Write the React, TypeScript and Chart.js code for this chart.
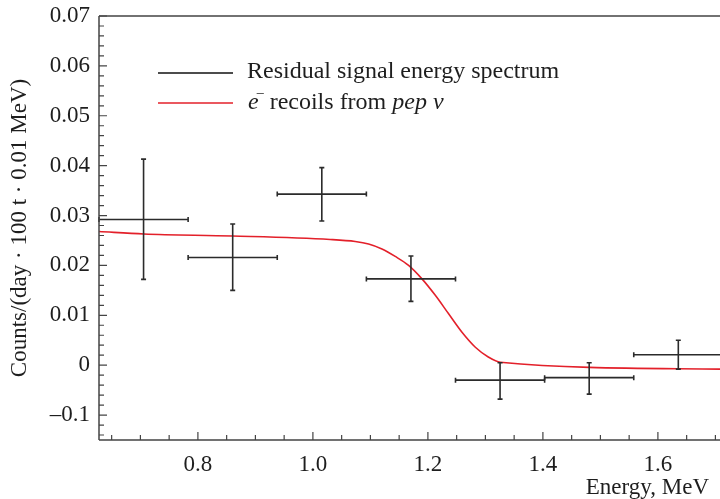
import React, { useEffect, useRef } from "react";
import { Chart, registerables } from "chart.js";

Chart.register(...registerables);

// ---- data ----
const binCenters = [0.7055, 0.8605, 1.0155, 1.1705, 1.3255, 1.4805, 1.6355];
const binLow = [0.628, 0.783, 0.938, 1.093, 1.248, 1.403, 1.558];
const binHigh = [0.783, 0.938, 1.093, 1.248, 1.403, 1.558, 1.713];
const signalValues = [0.0292, 0.0216, 0.0343, 0.0173, -0.003, -0.0025, 0.0021];
const signalUpper = [0.0413, 0.0283, 0.0396, 0.0219, 0.0005, 0.0005, 0.005];
const signalLower = [0.0172, 0.015, 0.0289, 0.0128, -0.0068, -0.0058, -0.0008];

const curveEnergy = [0.628, 0.706, 0.86, 1.03, 1.0736, 1.0968, 1.1201, 1.1432, 1.1664, 1.1897, 1.2129, 1.236, 1.2593, 1.2825, 1.3056, 1.326, 1.708];
const curveCounts = [0.0268, 0.0263, 0.0259, 0.0252, 0.0248, 0.0243, 0.0233, 0.0218, 0.02, 0.0173, 0.014, 0.0103, 0.0066, 0.0036, 0.0016, 0.0006, -0.0008];

const xTickValues = [0.8, 1.0, 1.2, 1.4, 1.6];
const xTickLabels = ["0.8", "1.0", "1.2", "1.4", "1.6"];
const yTickValues = [-0.01, 0, 0.01, 0.02, 0.03, 0.04, 0.05, 0.06, 0.07];
const yTickLabels = ["\u20130.1", "0", "0.01", "0.02", "0.03", "0.04", "0.05", "0.06", "0.07"];

const X_MIN = 0.628;
const X_MAX = 1.708;
const Y_MIN = -0.015;
const Y_MAX = 0.07;
const X_MINOR = 0.05;
const Y_MINOR = 0.002;

const xTitle = "Energy, MeV";
const yTitle = "Counts/(day \u00B7 100 t \u00B7 0.01 MeV)";
const legendSignal = "Residual signal energy spectrum";
const legendCurveParts = [
  { text: "e", italic: true, sup: false },
  { text: "\u2013", italic: false, sup: true },
  { text: " recoils from ", italic: false, sup: false },
  { text: "pep \u03BD", italic: true, sup: false },
];

const FONT = "'Liberation Serif', 'Times New Roman', serif";
const TEXT = "#1e1e1e";
const AXIS = "#444";
const BAR = "#2b2b2b";
const RED = "#e3202a";
const FS = 23;
const LFS = 24;

const errorBarPlugin = {
  id: "errorBars",
  afterDatasetsDraw(chart: any) {
    const { ctx, chartArea: a, scales } = chart;
    const x = scales.x, y = scales.y;
    ctx.save();
    ctx.beginPath();
    ctx.rect(a.left - 4, a.top, a.right - a.left + 4, a.bottom - a.top);
    ctx.clip();
    ctx.strokeStyle = BAR;
    ctx.lineWidth = 1.6;
    const cap = 2.5;
    for (let i = 0; i < binCenters.length; i++) {
      const xc = x.getPixelForValue(binCenters[i]);
      const xl = x.getPixelForValue(binLow[i]);
      const xh = x.getPixelForValue(binHigh[i]);
      const yc = y.getPixelForValue(signalValues[i]);
      const yt = y.getPixelForValue(signalUpper[i]);
      const yb = y.getPixelForValue(signalLower[i]);
      ctx.beginPath();
      ctx.moveTo(xl, yc); ctx.lineTo(xh, yc);
      ctx.moveTo(xc, yt); ctx.lineTo(xc, yb);
      ctx.moveTo(xl, yc - cap); ctx.lineTo(xl, yc + cap);
      ctx.moveTo(xh, yc - cap); ctx.lineTo(xh, yc + cap);
      ctx.moveTo(xc - cap, yt); ctx.lineTo(xc + cap, yt);
      ctx.moveTo(xc - cap, yb); ctx.lineTo(xc + cap, yb);
      ctx.stroke();
    }
    ctx.restore();
  },
};

function minorValues(min: number, max: number, step: number) {
  const out: number[] = [];
  const start = Math.ceil(min / step - 1e-9);
  const end = Math.floor(max / step + 1e-9);
  for (let k = start; k <= end; k++) out.push(+(k * step).toFixed(6));
  return out;
}

const axesPlugin = {
  id: "rootAxes",
  afterDraw(chart: any) {
    const { ctx, chartArea: a, scales } = chart;
    const x = scales.x, y = scales.y;
    ctx.save();
    ctx.strokeStyle = AXIS;
    ctx.lineWidth = 1.5;
    ctx.beginPath();
    ctx.moveTo(a.left, a.top); ctx.lineTo(a.right, a.top);
    ctx.moveTo(a.left, a.top); ctx.lineTo(a.left, a.bottom);
    ctx.moveTo(a.left, a.bottom); ctx.lineTo(a.right, a.bottom);
    ctx.stroke();
    ctx.lineWidth = 1.2;
    ctx.beginPath();
    for (const v of minorValues(X_MIN, X_MAX, X_MINOR)) {
      const px = x.getPixelForValue(v);
      if (px <= a.left + 1) continue;
      const major = xTickValues.some((t) => Math.abs(t - v) < 1e-6);
      ctx.moveTo(px, a.bottom);
      ctx.lineTo(px, a.bottom - (major ? 8 : 5));
    }
    for (const v of minorValues(Y_MIN, Y_MAX, Y_MINOR)) {
      const py = y.getPixelForValue(v);
      if (py >= a.bottom - 1) continue;
      const major = yTickValues.some((t) => Math.abs(t - v) < 1e-6);
      ctx.moveTo(a.left, py);
      ctx.lineTo(a.left + (major ? 8 : 5), py);
    }
    ctx.stroke();

    // x-axis title (right aligned, slightly inside the canvas edge)
    ctx.fillStyle = TEXT;
    ctx.textBaseline = "alphabetic";
    ctx.textAlign = "right";
    ctx.font = `${FS}px ${FONT}`;
    ctx.fillText(xTitle, 709, 494);

    // legend
    ctx.lineWidth = 1.5;
    ctx.strokeStyle = "#111";
    ctx.beginPath();
    ctx.moveTo(158, 73); ctx.lineTo(233, 73);
    ctx.stroke();
    ctx.strokeStyle = RED;
    ctx.beginPath();
    ctx.moveTo(158, 103); ctx.lineTo(233, 103);
    ctx.stroke();
    ctx.textAlign = "left";
    ctx.font = `${LFS}px ${FONT}`;
    ctx.fillText(legendSignal, 247, 78);
    let cx = 248;
    for (const p of legendCurveParts) {
      if (p.sup) {
        ctx.font = `${Math.round(LFS * 0.6)}px ${FONT}`;
        ctx.fillText(p.text, cx - 2, 97);
        cx += ctx.measureText(p.text).width - 2;
      } else {
        ctx.font = `${p.italic ? "italic " : ""}${LFS}px ${FONT}`;
        ctx.fillText(p.text, cx, 109);
        cx += ctx.measureText(p.text).width;
      }
    }
    ctx.restore();
  },
};

export default function App() {
  const ref = useRef<HTMLCanvasElement | null>(null);
  useEffect(() => {
    if (!ref.current) return;
    const chart = new Chart(ref.current, {
      type: "scatter",
      data: {
        datasets: [
          {
            label: "e\u2013 recoils from pep \u03BD",
            data: curveEnergy.map((e, i) => ({ x: e, y: curveCounts[i] })),
            showLine: true,
            borderColor: RED,
            borderWidth: 1.6,
            pointRadius: 0,
            cubicInterpolationMode: "monotone",
          } as any,
          {
            label: legendSignal,
            data: binCenters.map((e, i) => ({ x: e, y: signalValues[i] })),
            showLine: false,
            pointRadius: 0,
          },
        ],
      },
      options: {
        responsive: false,
        animation: false,
        layout: { padding: { top: 16, left: 0, right: 0, bottom: 0 } },
        plugins: { legend: { display: false }, tooltip: { enabled: false } },
        scales: {
          x: {
            type: "linear",
            min: X_MIN,
            max: X_MAX,
            grid: { display: false },
            border: { display: false },
            afterBuildTicks: (s: any) => { s.ticks = xTickValues.map((v) => ({ value: v })); },
            afterFit: (s: any) => { s.height = 59; },
            ticks: {
              color: TEXT,
              font: { family: FONT, size: FS },
              padding: 3,
              maxRotation: 0,
              callback: (v: any) => {
                const i = xTickValues.findIndex((t) => Math.abs(t - v) < 1e-6);
                return i >= 0 ? xTickLabels[i] : "";
              },
            },
            title: { display: false },
          },
          y: {
            type: "linear",
            min: Y_MIN,
            max: Y_MAX,
            grid: { display: false },
            border: { display: false },
            afterBuildTicks: (s: any) => { s.ticks = yTickValues.map((v) => ({ value: v })); },
            afterFit: (s: any) => { s.width = 99; },
            ticks: {
              color: TEXT,
              font: { family: FONT, size: FS },
              padding: 1,
              callback: (v: any) => {
                const i = yTickValues.findIndex((t) => Math.abs(t - v) < 1e-6);
                return i >= 0 ? yTickLabels[i] : "";
              },
            },
            title: {
              display: true,
              text: yTitle,
              color: TEXT,
              font: { family: FONT, size: FS },
              padding: { top: 6, bottom: 0 },
            },
          },
        },
      },
      plugins: [errorBarPlugin, axesPlugin],
    });
    return () => chart.destroy();
  }, []);
  return (
    <div style={{ position: "absolute", left: 0, top: 0, width: 720, height: 499, background: "#fff" }}>
      <canvas ref={ref} width={720} height={499} style={{ display: "block" }} />
    </div>
  );
}
